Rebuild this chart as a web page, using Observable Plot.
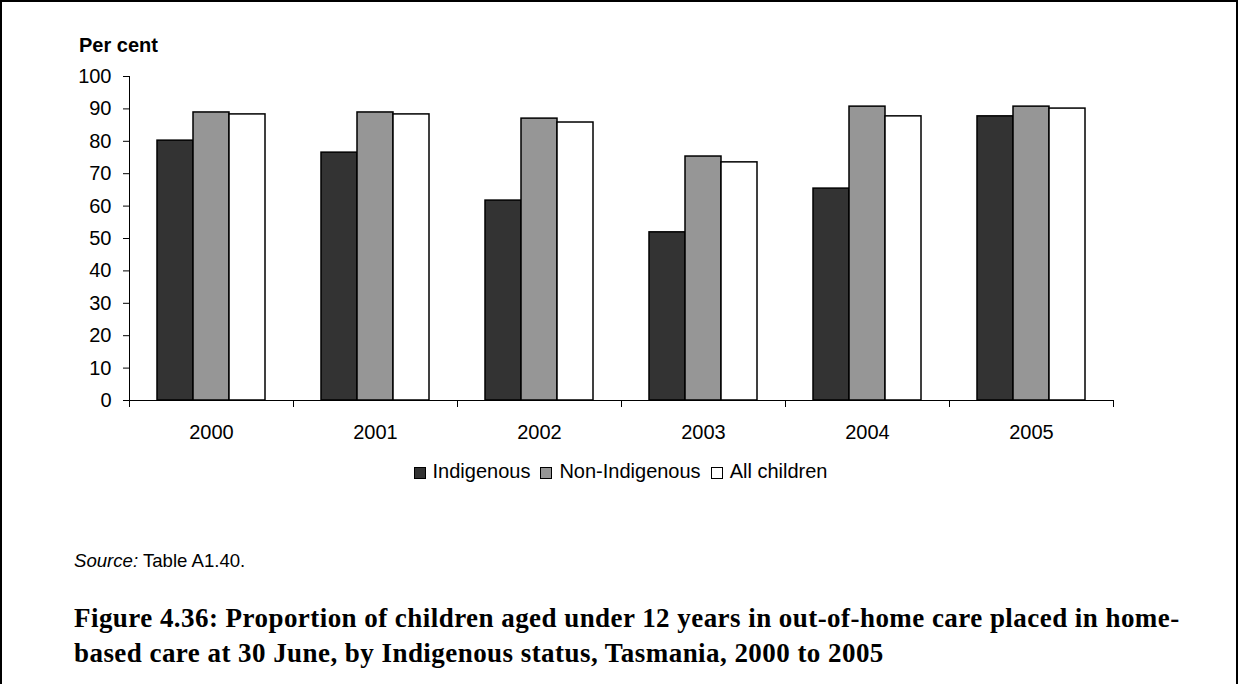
<!DOCTYPE html>
<html><head><meta charset="utf-8">
<script src="https://cdn.jsdelivr.net/npm/d3@7"></script>
<script src="https://cdn.jsdelivr.net/npm/@observablehq/plot@0.6"></script>
<style>
body{margin:0;background:#fff;}
#wrap{position:relative;width:1238px;height:684px;overflow:hidden;background:#fff;font-family:"Liberation Sans",Arial,sans-serif;color:#000;}
#border{position:absolute;left:0;top:0;width:1238px;height:720px;box-sizing:border-box;border:2px solid #000;pointer-events:none;}
#chart{position:absolute;left:0;top:0;}
#ylab{position:absolute;left:79px;top:34px;font-weight:bold;font-size:20px;line-height:22px;}
#legend{position:absolute;left:128px;width:985px;top:460px;text-align:center;font-size:20px;line-height:22px;white-space:nowrap;}
#legend .item{display:inline-block;margin:0 5px;}
#legend .sw{display:inline-block;width:10px;height:10px;border:1.5px solid #000;vertical-align:-1px;margin-right:7px;}
#source{position:absolute;left:74px;top:550px;font-size:18.6px;line-height:22px;}
#title{position:absolute;left:74px;top:601px;font-family:"Liberation Serif","Times New Roman",serif;font-weight:bold;font-size:27px;letter-spacing:0.45px;line-height:35px;white-space:nowrap;}
</style></head>
<body>
<div id="wrap">
  <div id="chart"></div>
  <div id="ylab">Per cent</div>
  <div id="legend"></div>
  <div id="source"><i>Source:</i> Table A1.40.</div>
  <div id="title">Figure 4.36: Proportion of children aged under 12 years in out-of-home care placed in home-<br>based care at 30 June, by Indigenous status, Tasmania, 2000 to 2005</div>
  <div id="border"></div>
</div>
<script>
const years = ["2000", "2001", "2002", "2003", "2004", "2005"];
const seriesNames = ["Indigenous", "Non-Indigenous", "All children"];
const indigenous = [80.2, 76.5, 61.7, 51.9, 65.4, 87.7];
const nonIndigenous = [88.9, 88.9, 87.0, 75.3, 90.7, 90.7];
const allChildren = [88.3, 88.3, 85.8, 73.5, 87.7, 90.1];
const yTicks = [0, 10, 20, 30, 40, 50, 60, 70, 80, 90, 100];
const seriesColors = ["#333333", "#969696", "#ffffff"];

const seriesValues = [indigenous, nonIndigenous, allChildren];
const data = [];
years.forEach((yr, i) => {
  seriesNames.forEach((s, k) => data.push({year: yr, series: s, value: seriesValues[k][i]}));
});

const W = 1238, H = 460, mT = 76, mB = 60, mL = 128, mR = 125;
const frameH = H - mT - mB;

const plot = Plot.plot({
  width: W, height: H,
  marginLeft: mL, marginRight: mR, marginTop: mT, marginBottom: mB,
  style: {fontFamily: "'Liberation Sans', Arial, sans-serif", fontSize: "20px", color: "#000", background: "transparent", overflow: "visible"},
  fx: {domain: years, padding: 0, label: null, axis: null},
  x: {domain: seriesNames, paddingInner: 0, paddingOuter: 0.72, axis: null},
  y: {domain: [0, 100], label: null, axis: null},
  color: {domain: seriesNames, range: seriesColors},
  marks: [
    Plot.axisY({ticks: yTicks, tickSize: 6, tickPadding: 12, label: null, fontSize: 20, stroke: "#000"}),
    Plot.axisFx({anchor: "bottom", tickSize: 0, tickPadding: 24, label: null, fontSize: 20}),
    Plot.barY(data, {fx: "year", x: "series", y: "value", fill: "series", stroke: "#000", strokeWidth: 1.5}),
    Plot.ruleY([0], {stroke: "#000", strokeWidth: 1.2}),
    Plot.frame({anchor: "left", insetTop: frameH, insetBottom: -6, stroke: "#000"}),
    Plot.frame({anchor: "right", insetTop: frameH, insetBottom: -6, stroke: "#000"}),
    Plot.frame({anchor: "left", facet: "super", stroke: "#000"})
  ]
});
document.getElementById("chart").appendChild(plot);

const legend = document.getElementById("legend");
seriesNames.forEach((s, k) => {
  const item = document.createElement("span");
  item.className = "item";
  const sw = document.createElement("span");
  sw.className = "sw";
  sw.style.background = seriesColors[k];
  item.appendChild(sw);
  item.appendChild(document.createTextNode(s));
  legend.appendChild(item);
});
</script>
</body></html>
